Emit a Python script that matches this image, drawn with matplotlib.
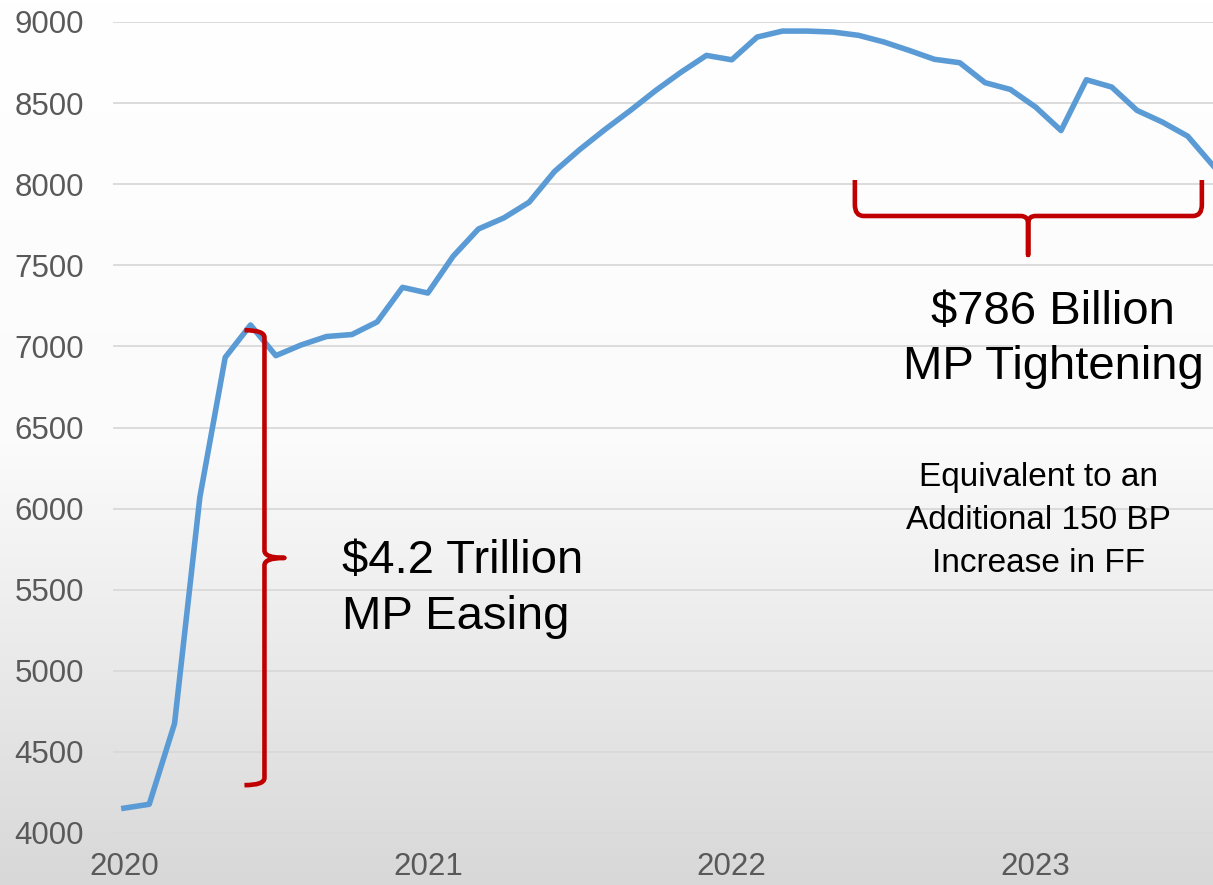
import numpy as np
import matplotlib
matplotlib.use("Agg")
import matplotlib.pyplot as plt
from matplotlib.path import Path
from matplotlib.patches import PathPatch
from matplotlib.colors import LinearSegmentedColormap

plt.rcParams['font.family'] = ['Liberation Sans', 'DejaVu Sans']

# Fed balance sheet, monthly, Jan 2020 - Aug 2023 ($ billions)
values = [4153, 4177, 4675, 6071, 6932, 7132, 6943, 7009, 7061, 7073, 7151, 7364,
          7329, 7556, 7724, 7792, 7889, 8078, 8214, 8338, 8455, 8578, 8691, 8794,
          8767, 8907, 8944, 8944, 8938, 8918, 8877, 8825, 8770, 8749, 8626, 8584,
          8475, 8331, 8644, 8599, 8455, 8383, 8296, 8115]
months = np.arange(len(values))
year_ticks = [0, 12, 24, 36]
year_labels = ['2020', '2021', '2022', '2023']
y_ticks = list(range(4000, 9001, 500))

RED = '#C00000'
BLUE = '#5B9BD5'
GREY_TXT = '#595959'

fig = plt.figure(figsize=(12.13, 8.85), dpi=100)

# soft vertical gradient behind everything
bg = fig.add_axes([0, 0, 1, 1], zorder=-10)
grad = np.linspace(0, 1, 256).reshape(-1, 1)
cmap = LinearSegmentedColormap.from_list('bg', ['#FFFFFF', '#FBFBFB', '#D8D8D8'])
bg.imshow(grad, aspect='auto', cmap=cmap, extent=[0, 1, 0, 1], origin='upper')
bg.set_axis_off()

ax = fig.add_axes([113 / 1213, 1 - 833 / 885, 1 - 113 / 1213, (833 - 22) / 885])
ax.set_facecolor('none')
ax.plot(months, values, color=BLUE, lw=4.0, solid_joinstyle='round', zorder=3)

ax.set_xlim(-0.43, 43.0)
ax.set_ylim(4000, 9000)
ax.set_yticks(y_ticks)
ax.set_xticks(year_ticks)
ax.set_xticklabels(year_labels)
ax.tick_params(length=0, labelsize=22.5, colors=GREY_TXT)
ax.tick_params(axis='y', pad=21)
ax.tick_params(axis='x', pad=14)
ax.grid(axis='y', color='#D9D9D9', lw=1.3)
ax.set_axisbelow(True)
for s in ax.spines.values():
    s.set_visible(False)

# left brace "}" spanning the easing
x0, x1, xt = 4.76, 5.55, 6.34
ytop, ymid, ybot = 7100, 5696, 4295
ry = 45
verts = [(x0, ytop), (x1, ytop), (x1, ytop - ry),
         (x1, ymid + ry), (x1, ymid), (xt, ymid),
         (x1, ymid), (x1, ymid - ry),
         (x1, ybot + ry), (x1, ybot), (x0, ybot)]
codes = [Path.MOVETO, Path.CURVE3, Path.CURVE3,
         Path.LINETO, Path.CURVE3, Path.CURVE3,
         Path.CURVE3, Path.CURVE3,
         Path.LINETO, Path.CURVE3, Path.CURVE3]
ax.add_patch(PathPatch(Path(verts, codes), fill=False, ec=RED, lw=3.3,
                       joinstyle='round', capstyle='butt', zorder=4))

# under-brace spanning the tightening
xl, xm, xr = 28.86, 35.7, 42.56
ytop2, yh, ytip = 8026, 7804, 7564
rx2, ry2 = 0.35, 70
rxm, rym = 0.3, 45
verts = [(xl, ytop2), (xl, yh + ry2), (xl, yh), (xl + rx2, yh),
         (xm - rxm, yh), (xm, yh), (xm, yh - rym), (xm, ytip),
         (xm, yh - rym), (xm, yh), (xm + rxm, yh),
         (xr - rx2, yh), (xr, yh), (xr, yh + ry2), (xr, ytop2)]
codes = [Path.MOVETO, Path.LINETO, Path.CURVE3, Path.CURVE3,
         Path.LINETO, Path.CURVE3, Path.CURVE3, Path.LINETO,
         Path.LINETO, Path.CURVE3, Path.CURVE3,
         Path.LINETO, Path.CURVE3, Path.CURVE3, Path.LINETO]
ax.add_patch(PathPatch(Path(verts, codes), fill=False, ec=RED, lw=3.3,
                       joinstyle='round', capstyle='butt', zorder=4))

ax.text(8.63, 5504, '$4.2 Trillion\nMP Easing', fontsize=34, ha='left', va='center',
        linespacing=1.33, color='black')
ax.text(36.7, 7043, '$786 Billion\nMP Tightening', fontsize=34, ha='center', va='center',
        linespacing=1.33, color='black')
ax.text(36.1, 5924, 'Equivalent to an\nAdditional 150 BP\nIncrease in FF', fontsize=24,
        ha='center', va='center', linespacing=1.5, color='black')

fig.savefig('out.png', dpi=100)
